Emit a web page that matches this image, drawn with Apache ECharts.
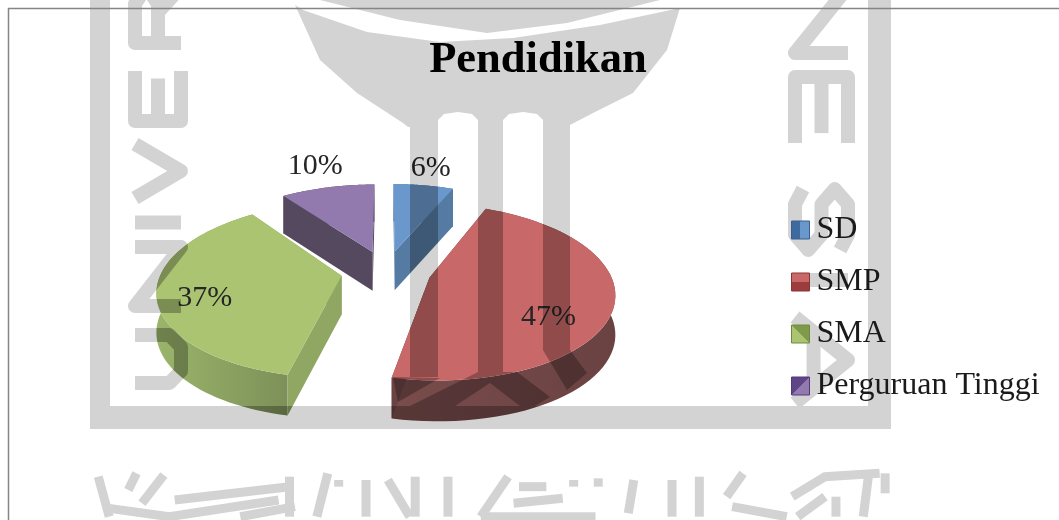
<!DOCTYPE html>
<html>
<head>
<meta charset="utf-8">
<title>Pendidikan</title>
<style>
    html, body { margin: 0; padding: 0; background: #fff; }
    #chartPie { width: 1059px; height: 520px; }
</style>
</head>
<body>
<div id="chartPie"></div>
<script src="https://cdn.jsdelivr.net/npm/echarts@6/dist/echarts.min.js"></script>
<script>
    var categories = ['SD', 'SMP', 'SMA', 'Perguruan Tinggi'];
    var percentages = [6.4, 47, 36.6, 10];

    // top face, wall left, wall right, cut face
    var colors = [
        ['#6a97cc', '#5a80aa', '#5a80aa', '#557ba3'],
        ['#c96868', '#7a4c4c', '#6a4242', '#6a4242'],
        ['#abc472', '#9ab56a', '#7d9059', '#8fa763'],
        ['#9279ae', '#54495f', '#54495f', '#54495f']
    ];
    var legendDark = ['#3f6a9e', '#9c3d3d', '#7f9a4a', '#5f4585'];
    var legendLine = ['#36608f', '#8a3434', '#6f8a40', '#54397a'];
    var legendDir = [[1, 0, 0, 0], [0, 0, 0, 1], [0, 1, 1, 0], [1, 1, 0, 0]];

    var labelRadius = [1.3, 0.65, 0.75, 1.33];
    var labelShiftX = [0, 1, 1, 0];
    var labelShiftY = [-1, 22, 9, -3];

    // pie projection
    var cx = 386, cy = 271.3, rx = 180, ry = 84, persp = 0.16, explode = 0.25, depth = 39;

    function project(u, v, drop) {
        var w = 1 - persp * v;
        return [cx + rx * u / w, cy + ry * v / w + drop * Math.pow(1 / w, 0.25)];
    }

    function sliceAngles(idx) {
        var before = 0, total = 0;
        for (var i = 0; i < percentages.length; i++) {
            if (i < idx) before += percentages[i];
            total += percentages[i];
        }
        return [before / total * Math.PI * 2, (before + percentages[idx]) / total * Math.PI * 2];
    }

    function renderSlice(params) {
        var idx = params.seriesIndex;
        var a = sliceAngles(idx);
        var mid = (a[0] + a[1]) / 2;
        var ex = explode * Math.sin(mid), ey = -explode * Math.cos(mid);
        var c = colors[idx];
        var arcTop = [], arcBottom = [];
        for (var i = 0; i <= 60; i++) {
            var t = a[0] + (a[1] - a[0]) * i / 60;
            var u = ex + Math.sin(t), v = ey - Math.cos(t);
            arcTop.push(project(u, v, 0));
            arcBottom.push(project(u, v, depth));
        }
        var apex = project(ex, ey, 0), apexLow = project(ex, ey, depth);
        var wallFill = {
            type: 'linear', x: 0, y: 0, x2: 1, y2: 0,
            colorStops: [{ offset: 0, color: c[1] }, { offset: 1, color: c[2] }]
        };
        var lab = project(ex + Math.sin(mid) * labelRadius[idx], ey - Math.cos(mid) * labelRadius[idx], 0);
        return {
            type: 'group',
            children: [
                { type: 'polygon', shape: { points: arcTop.concat(arcBottom.slice().reverse()) }, style: { fill: wallFill } },
                { type: 'polygon', shape: { points: [apex, arcTop[0], arcBottom[0], apexLow] }, style: { fill: c[3] } },
                { type: 'polygon', shape: { points: [apex, arcTop[60], arcBottom[60], apexLow] }, style: { fill: c[3] } },
                { type: 'polygon', shape: { points: [apex].concat(arcTop) }, style: { fill: c[0] } },
                {
                    type: 'text',
                    style: {
                        text: Math.round(percentages[idx]) + '%', x: lab[0] + labelShiftX[idx], y: lab[1] + labelShiftY[idx],
                        font: '30px "Liberation Serif"', fill: '#262626', align: 'center', verticalAlign: 'middle'
                    }
                }
            ]
        };
    }

    // watermark behind the chart
    var markPolys = [
        [[90, 0], [110, 0], [110, 406], [868, 406], [868, 0], [891, 0], [891, 429], [90, 429]],
        [[320, 0], [400, 20], [487, 33], [567, 23], [660, 0]],
        [[295, 5], [303, 10], [367, 32], [440, 42], [513, 38], [600, 25], [680, 8], [667, 50], [633, 93], [593, 113], [570, 125], [570, 127],
            [543, 127], [543, 120], [537, 114], [523, 112], [509, 114], [503, 120], [503, 127],
            [478, 127], [478, 120], [472, 114], [458, 112], [444, 114], [438, 120], [438, 127],
            [408, 127], [403, 123], [357, 93], [320, 60]],
        [[410, 127], [438, 127], [438, 377], [410, 377]],
        [[478, 127], [503, 127], [503, 372], [478, 372]],
        [[543, 127], [570, 127], [570, 350], [543, 350]],
        [[393, 377], [440, 378], [398, 402]],
        [[478, 372], [517, 372], [550, 397], [535, 406], [520, 406], [490, 383], [455, 406], [410, 406]],
        [[543, 350], [570, 350], [587, 373], [567, 390]]
    ];
    // letter outlines in a unit box: along the reading direction, then top to bottom
    var letterShapes = {
        R: [[0, 1, 0, 0, 0.7, 0, 1, 0.25, 0.7, 0.5, 0, 0.5], [0.55, 0.5, 1, 1]],
        E: [[1, 0, 0, 0, 0, 1, 1, 1], [0, 0.5, 0.85, 0.5]],
        V: [[0, 0, 0.5, 1, 1, 0]],
        I: [[0.5, 0, 0.5, 1]],
        N: [[0, 1, 0, 0, 1, 1, 1, 0]],
        U: [[0, 0, 0, 0.75, 0.25, 1, 0.75, 1, 1, 0.75, 1, 0]],
        S: [[1, 0.15, 0.75, 0, 0.25, 0, 0, 0.25, 0.25, 0.5, 0.75, 0.5, 1, 0.75, 0.75, 1, 0.25, 1, 0, 0.85]],
        A: [[0, 1, 0.5, 0, 1, 1], [0.2, 0.65, 0.8, 0.65]]
    };
    // letter, start y, end y
    var leftLetters = [['R', 50, -20], ['E', 128, 64], ['V', 205, 137], ['I', 230, 215], ['N', 313, 240], ['U', 390, 328]];
    var rightLetters = [['N', -20, 60], ['E', 70, 150], ['S', 182, 257], ['I', 270, 290], ['A', 310, 410]];
    var markStrokes = [
        [70, 170, 90, 290], [90, 265, 200, 290, 400, 240], [140, 160, 125, 210], [190, 165, 150, 250], [210, 240, 420, 200],
        [420, 170, 420, 290], [330, 290, 430, 260], [490, 160, 470, 290], [510, 180, 510, 200], [560, 180, 560, 290],
        [600, 180, 640, 290], [650, 170, 650, 290], [710, 170, 710, 290], [820, 170, 770, 290], [770, 290, 980, 290],
        [840, 200, 890, 200], [830, 250, 920, 235], [940, 180, 940, 200], [985, 175, 985, 200], [1050, 180, 1040, 280],
        [1120, 180, 1120, 290], [1170, 170, 1170, 290], [1250, 160, 1220, 230], [1230, 260, 1330, 290],
        [1340, 230, 1400, 170, 1500, 160], [1400, 230, 1350, 290], [1420, 230, 1420, 290], [1480, 160, 1470, 290], [1510, 160, 1510, 220]
    ];

    function letterLines(list, xTop, xBottom, fill, blend, z) {
        var els = [];
        list.forEach(function (l) {
            var dir = l[2] > l[1] ? 1 : -1;
            var y0 = l[1] + dir * 7, y1 = l[2] - dir * 7;
            letterShapes[l[0]].forEach(function (s) {
                var pts = [];
                for (var i = 0; i < s.length; i += 2) {
                    pts.push([xTop + (xBottom - xTop) * s[i + 1], y0 + (y1 - y0) * s[i]]);
                }
                els.push({
                    type: 'polyline', z: z, silent: true,
                    shape: { points: pts },
                    style: { stroke: fill, lineWidth: 14, lineJoin: 'round', fill: null, blend: blend }
                });
            });
        });
        return els;
    }

    function markLayer(fill, blend, z) {
        var els = markPolys.map(function (p) {
            return {
                type: 'polygon', z: z, silent: true,
                shape: { points: p },
                style: { fill: fill, blend: blend }
            };
        });
        els = els.concat(letterLines(leftLetters, 135, 181, fill, blend, z));
        els = els.concat(letterLines(rightLetters, 848, 795, fill, blend, z));
        markStrokes.forEach(function (s) {
            var pts = [];
            for (var i = 0; i < s.length; i += 2) {
                pts.push([60 + s[i] / 1.83, 420 + s[i + 1] / 3]);
            }
            els.push({
                type: 'polyline', z: z, silent: true,
                shape: { points: pts },
                style: { stroke: fill, lineWidth: 9, fill: null, blend: blend }
            });
        });
        return els;
    }

    var chartPie = echarts.init(document.getElementById('chartPie'));
    var option = {
        animation: false,
        title: {
            text: 'Pendidikan',
            left: 533,
            textAlign: 'center',
            top: 33,
            textStyle: { fontFamily: 'Liberation Serif', fontSize: 44.5, fontWeight: 'bold', color: '#000' }
        },
        legend: {
            orient: 'vertical',
            left: 791,
            top: 214,
            padding: 0,
            itemWidth: 18,
            itemHeight: 18,
            itemGap: 20,
            icon: 'rect',
            selectedMode: false,
            textStyle: { fontFamily: 'Liberation Serif', fontSize: 32, color: '#1a1a1a', padding: [0, 0, 0, 2] },
            data: categories.map(function (name, i) {
                var d = legendDir[i];
                return {
                    name: name,
                    itemStyle: {
                        borderColor: legendLine[i],
                        borderWidth: 1,
                        color: {
                            type: 'linear', x: d[0], y: d[1], x2: d[2], y2: d[3],
                            colorStops: [
                                { offset: 0, color: colors[i][0] }, { offset: 0.5, color: colors[i][0] },
                                { offset: 0.5, color: legendDark[i] }, { offset: 1, color: legendDark[i] }
                            ]
                        }
                    }
                };
            })
        },
        series: categories.map(function (name, i) {
            return {
                type: 'custom',
                name: name,
                coordinateSystem: 'none',
                z: 2,
                silent: true,
                itemStyle: { color: colors[i][0] },
                renderItem: renderSlice,
                data: [[percentages[i]]]
            };
        }),
        graphic: {
            elements: markLayer('rgba(0,0,0,0.28)', 'source-atop', 3).concat([{
                type: 'polyline', z: 9, silent: true,
                shape: { points: [[8.5, 520], [8.5, 8.5], [1059, 8.5]] },
                style: { stroke: '#858585', lineWidth: 1.5, fill: null }
            }]).concat(markLayer('#d3d3d3', 'destination-over', 10))
        }
    };
    chartPie.setOption(option);
</script>
</body>
</html>
